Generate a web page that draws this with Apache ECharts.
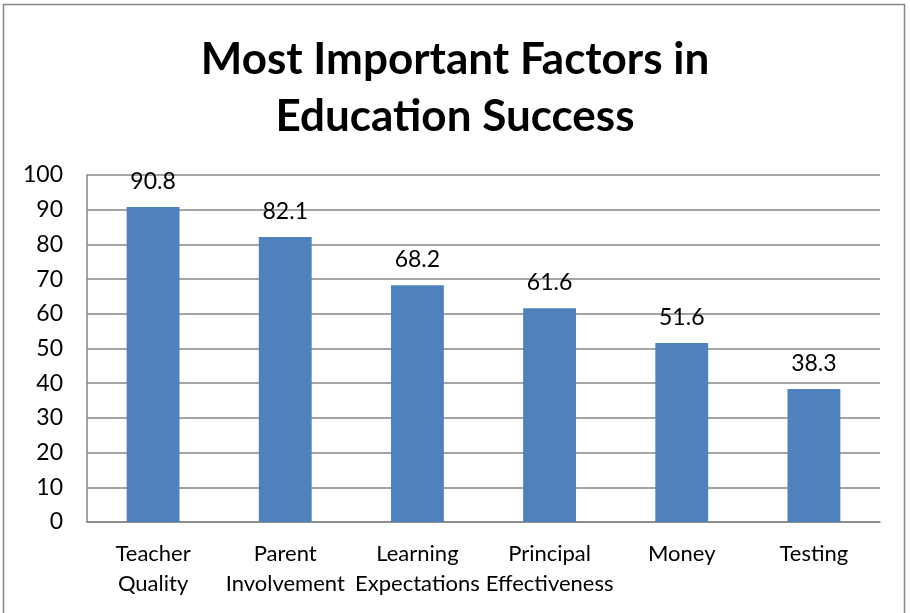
<!DOCTYPE html>
<html>
<head>
<meta charset="utf-8">
<script src="https://cdn.jsdelivr.net/npm/echarts@6/dist/echarts.min.js"></script>
<style>
  html, body { margin: 0; padding: 0; background: #fff; }
  #chart { width: 910px; height: 613px; }
</style>
</head>
<body>
<div id="chart"></div>
<script>
// data
const categories = ['Teacher\nQuality', 'Parent\nInvolvement', 'Learning\nExpectations', 'Principal\nEffectiveness', 'Money', 'Testing'];
const values = [90.8, 82.1, 68.2, 61.6, 51.6, 38.3];
const titleText = 'Most Important Factors in\nEducation Success';

const font = 'Lato, "Open Sans", sans-serif';
const chart = echarts.init(document.getElementById('chart'));

const option = {
  backgroundColor: '#fff',
  animation: false,
  title: {
    text: titleText,
    left: 'center',
    top: 26,
    textStyle: {
      fontFamily: font,
      fontSize: 44,
      fontWeight: 'bold',
      color: '#000',
      lineHeight: 57
    }
  },
  graphic: [{
    type: 'rect',
    shape: { x: 3.5, y: 4.5, width: 901, height: 640 },
    style: { fill: 'none', stroke: '#868686', lineWidth: 1.5 },
    silent: true
  }],
  grid: { left: 87, right: 30, top: 175, bottom: 91 },
  xAxis: {
    type: 'category',
    data: categories,
    axisLine: { lineStyle: { color: '#868686', width: 1.5 } },
    axisTick: { show: false },
    axisLabel: {
      fontFamily: font,
      fontSize: 22,
      color: '#000',
      lineHeight: 30,
      margin: 17,
      interval: 0
    }
  },
  yAxis: {
    type: 'value',
    min: 0,
    max: 100,
    interval: 10,
    axisLine: { show: true, lineStyle: { color: '#868686', width: 1.5 } },
    axisTick: { show: false },
    splitLine: { lineStyle: { color: '#868686', width: 1.5 } },
    axisLabel: {
      fontFamily: font,
      fontSize: 23,
      color: '#000',
      margin: 24
    }
  },
  series: [{
    type: 'bar',
    data: values,
    barWidth: '40%',
    itemStyle: { color: '#4F81BD' },
    label: {
      show: true,
      position: 'top',
      distance: 14,
      fontFamily: font,
      fontSize: 23,
      color: '#000'
    }
  }]
};
chart.setOption(option);
</script>
</body>
</html>
